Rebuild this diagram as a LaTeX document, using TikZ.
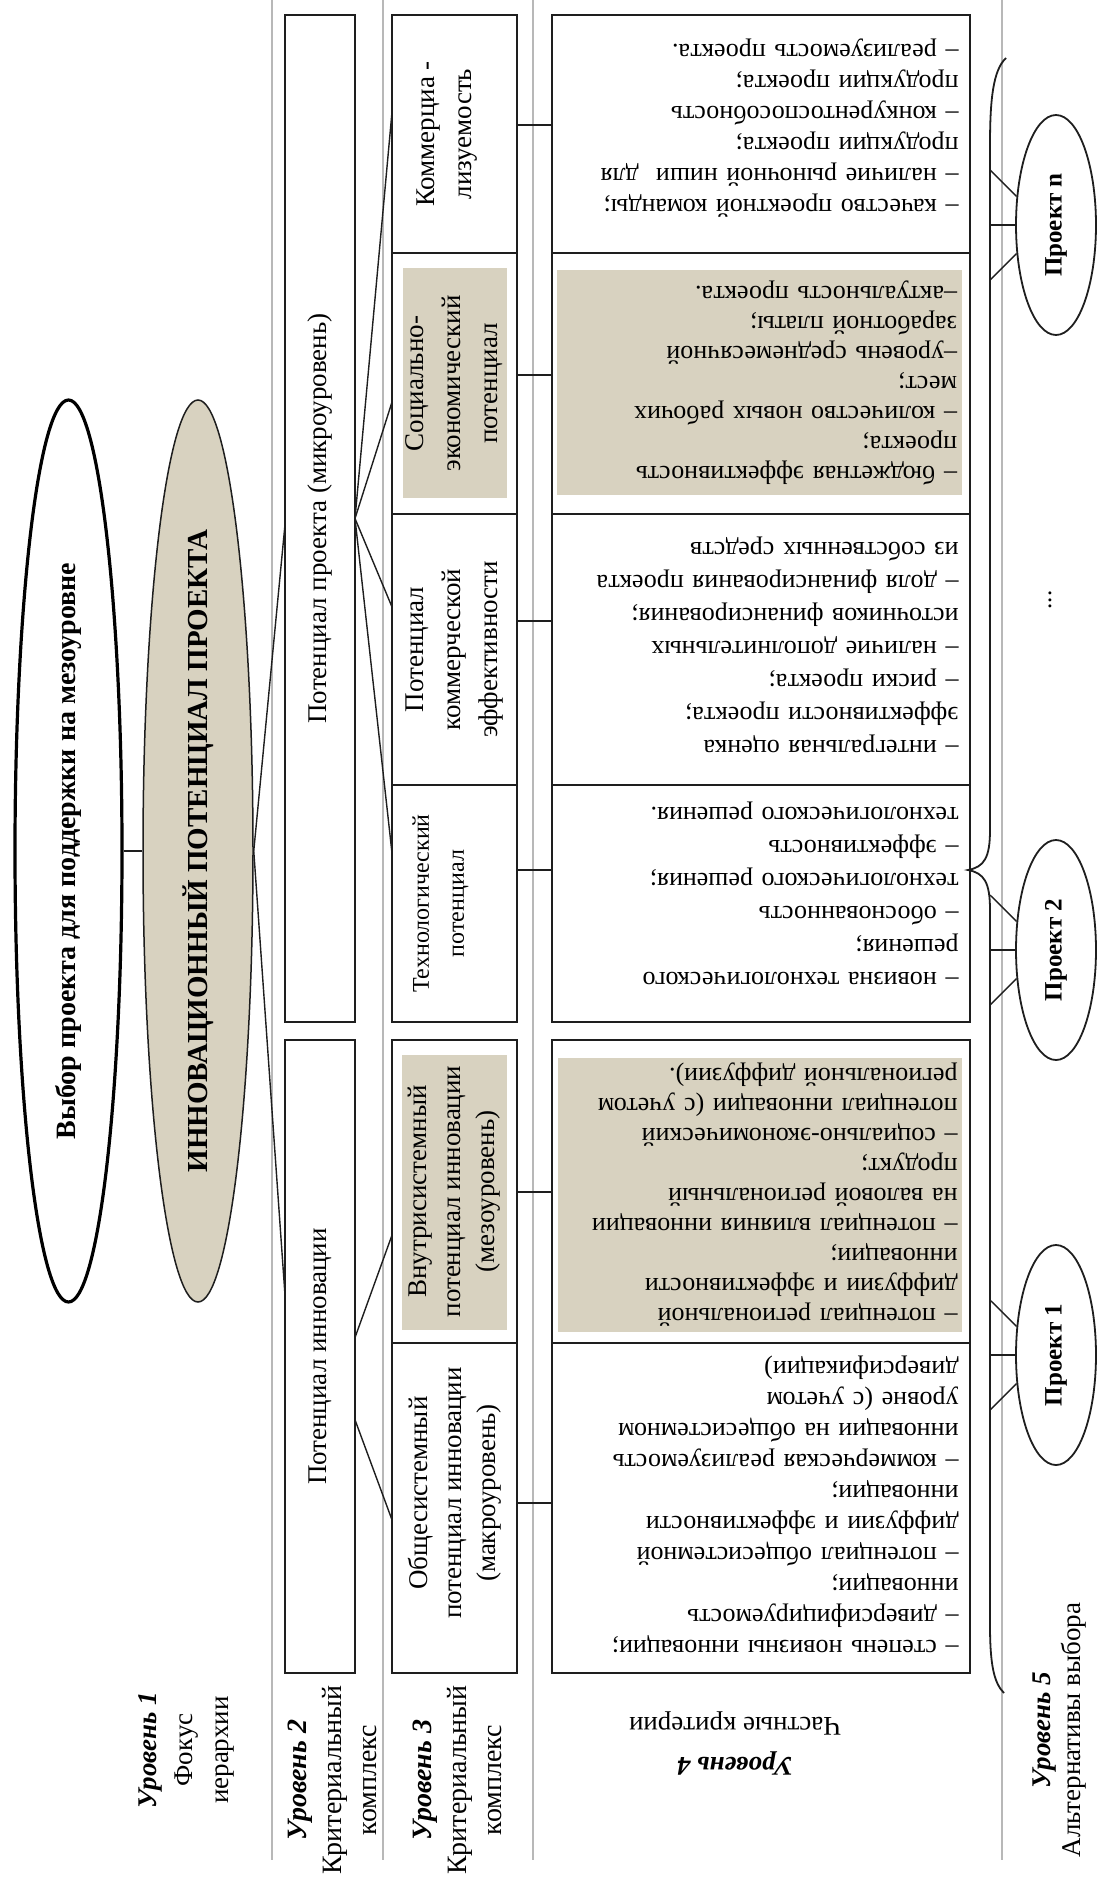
\documentclass[tikz,border=0pt]{standalone}
\usepackage{fontspec}
\setmainfont{Liberation Serif}
\usetikzlibrary{shapes.geometric,calc}
\definecolor{shade}{RGB}{216,210,192}
\definecolor{ink}{RGB}{30,30,30}
\begin{document}
\begin{tikzpicture}[x=1pt,y=-1pt,
  box/.style={draw=ink, line width=2.4pt, rectangle, inner sep=0pt, outer sep=0pt},
  shadebox/.style={fill=shade, draw=none, rectangle, inner sep=0pt, outer sep=0pt},
  conn/.style={draw=ink, line width=1.4pt},
  hconn/.style={draw=ink, line width=2.2pt},
  sepline/.style={draw=black!28, line width=1.2pt},
  bracepath/.style={draw=ink, line width=1.8pt},
  rtext/.style={rotate=90, align=center, inner sep=0pt},
  crit/.style={rotate=180, align=left, inner sep=0pt, text width=395pt},
  lvl/.style={rotate=90, align=center, inner sep=0pt},
  proj/.style={ellipse, draw=ink, line width=1.8pt, minimum width=80pt, minimum height=220pt, inner sep=0pt},
  l3font/.style={font=\fontsize{27}{37}\selectfont},
  critfont/.style={font=\fontsize{26}{31}\selectfont}
]
\useasboundingbox (0,0) rectangle (1097,1887);
\fill[white] (0,0) rectangle (1097,1887);

% separator lines
\draw[sepline] (272,0) -- (272,1860);
\draw[sepline] (383,0) -- (383,1860);
\draw[sepline] (533,0) -- (533,1860);
\draw[sepline] (1002,0) -- (1002,1860);

% level 1 ellipses
\node[ellipse, draw=black, line width=3.2pt, minimum width=107pt, minimum height=902pt, inner sep=0pt] (e1) at (68.5,851) {};
\node[ellipse, draw=ink, line width=1.5pt, fill=shade, minimum width=110pt, minimum height=902pt, inner sep=0pt] (e2) at (198,851) {};
\node[rtext, font=\bfseries\fontsize{28}{32}\selectfont] (e1t) at (e1.center) {Выбор проекта для поддержки на мезоуровне};
\node[rtext, font=\bfseries\fontsize{29}{33}\selectfont] (e2t) at (e2.center) {ИННОВАЦИОННЫЙ ПОТЕНЦИАЛ ПРОЕКТА};

% level 2 boxes
\node[box, minimum width=70pt, minimum height=1007pt] (b2a) at (320,518.5) {};
\node[box, minimum width=70pt, minimum height=633pt] (b2b) at (320,1356.5) {};
\node[rtext, font=\fontsize{27}{32}\selectfont] (b2at) at (b2a.center) {Потенциал проекта (микроуровень)};
\node[rtext, font=\fontsize{27}{32}\selectfont] (b2bt) at (b2b.center) {Потенциал инновации};

% level 3 shaded insets
\node[shadebox, minimum width=104pt, minimum height=230pt] (s2) at (455,383) {};
\node[shadebox, minimum width=105pt, minimum height=275pt] (s5) at (454.5,1192.5) {};
% level 4 shaded insets
\node[shadebox, minimum width=405pt, minimum height=225pt] (f2) at (759.5,382.5) {};
\node[shadebox, minimum width=404pt, minimum height=274pt] (f5) at (760,1195) {};

% level 3 boxes
\node[box, minimum width=125pt, minimum height=238pt] (c1) at (454.5,134) {};
\node[box, minimum width=125pt, minimum height=261pt] (c2) at (454.5,383.5) {};
\node[box, minimum width=125pt, minimum height=271pt] (c3) at (454.5,649.5) {};
\node[box, minimum width=125pt, minimum height=237pt] (c4) at (454.5,903.5) {};
\node[box, minimum width=125pt, minimum height=303pt] (c5) at (454.5,1191.5) {};
\node[box, minimum width=125pt, minimum height=330pt] (c6) at (454.5,1508) {};

% level 4 boxes
\node[box, minimum width=418pt, minimum height=238pt] (d1) at (761,134) {};
\node[box, minimum width=418pt, minimum height=261pt] (d2) at (761,383.5) {};
\node[box, minimum width=418pt, minimum height=271pt] (d3) at (761,649.5) {};
\node[box, minimum width=418pt, minimum height=237pt] (d4) at (761,903.5) {};
\node[box, minimum width=418pt, minimum height=303pt] (d5) at (761,1191.5) {};
\node[box, minimum width=418pt, minimum height=330pt] (d6) at (761,1508) {};

% level 3 texts
\node[rtext, l3font] (c1t) at ($(c1.center)+(-7,0)$) {Коммерциа -\\лизуемость};
\node[rtext, l3font] (c2t) at (c2.center) {Социально-\\экономический\\потенциал};
\node[rtext, l3font] (c3t) at (c3.center) {Потенциал\\коммерческой\\эффективности};
\node[rtext, font=\fontsize{24}{35}\selectfont] (c4t) at ($(c4.center)+(-14,0)$) {Технологический\\потенциал};
\node[rtext, font=\fontsize{27}{34}\selectfont] (c5t) at (c5.center) {Внутрисистемный\\потенциал инновации\\(мезоуровень)};
\node[rtext, font=\fontsize{27}{34}\selectfont] (c6t) at ($(c6.center)+(0,-15)$) {Общесистемный\\потенциал инновации\\(макроуровень)};

% level 4 texts (printed upside down)
\node[crit, critfont] (d1t) at ($(d1.center)+(0,-6)$) {– качество проектной команды;\\– наличие рыночной ниши \ для\\продукции проекта;\\– конкурентоспособность\\продукции проекта;\\– реализуемость проекта.};
\node[crit, font=\fontsize{26}{30}\selectfont] (d2t) at (f2.center) {– бюджетная эффективность\\проекта;\\– количество новых рабочих\\мест;\\–уровень среднемесячной\\заработной платы;\\–актуальность проекта.};
\node[crit, font=\fontsize{26}{33}\selectfont] (d3t) at ($(d3.center)+(0,-5)$) {– интегральная оценка\\эффективности проекта;\\– риски проекта;\\– наличие дополнительных\\источников финансирования;\\– доля финансирования проекта\\из собственных средств};
\node[crit, font=\fontsize{26}{33}\selectfont] (d4t) at ($(d4.center)+(0,-10)$) {– новизна технологического\\решения;\\– обоснованность\\технологического решения;\\– эффективность\\технологического решения.};
\node[crit, font=\fontsize{26}{30}\selectfont] (d5t) at (f5.center) {– потенциал региональной\\диффузии и эффективности\\инновации;\\– потенциал влияния инновации\\на валовой региональный\\продукт;\\– социально-экономический\\потенциал инновации (с учетом\\региональной диффузии).};
\node[crit, critfont] (d6t) at ($(d6.center)+(0,-4)$) {– степень новизны инновации;\\– диверсифицируемость\\инновации;\\– потенциал общесистемной\\диффузии и эффективности\\инновации;\\– коммерческая реализуемость\\инновации на общесистемном\\уровне (с учетом\\диверсификации)};

% connectors level 1 -> 2
\draw[conn] (e1) -- (e2);
\draw[conn] (e2.east) -- ($(b2a.north west)!0.506!(b2a.south west)$);
\draw[conn] (e2.east) -- ($(b2b.north west)!0.403!(b2b.south west)$);

% connectors level 2 -> 3
\draw[conn] (b2a.east) -- ($(c1.north west)!0.408!(c1.south west)$);
\draw[conn] (b2a.east) -- ($(c2.north west)!0.571!(c2.south west)$);
\draw[conn] (b2a.east) -- ($(c3.north west)!0.343!(c3.south west)$);
\draw[conn] (b2a.east) -- ($(c4.north west)!0.287!(c4.south west)$);
\draw[conn] ($(b2b.north east)!0.47!(b2b.south east)$) -- ($(c5.north west)!0.644!(c5.south west)$);
\draw[conn] ($(b2b.north east)!0.6!(b2b.south east)$) -- ($(c6.north west)!0.536!(c6.south west)$);

% connectors level 3 -> 4
\draw[hconn] ($(c1.north east)!0.462!(c1.south east)$) -- ($(d1.north west)!0.462!(d1.south west)$);
\draw[hconn] ($(c2.north east)!0.467!(c2.south east)$) -- ($(d2.north west)!0.467!(d2.south west)$);
\draw[hconn] ($(c3.north east)!0.395!(c3.south east)$) -- ($(d3.north west)!0.395!(d3.south west)$);
\draw[hconn] ($(c4.north east)!0.359!(c4.south east)$) -- ($(d4.north west)!0.359!(d4.south west)$);
\draw[hconn] ($(c5.north east)!0.502!(c5.south east)$) -- ($(d5.north west)!0.502!(d5.south west)$);
\draw[hconn] ($(c6.north east)!0.485!(c6.south east)$) -- ($(d6.north west)!0.485!(d6.south west)$);

% level 5: brace and alternatives
\coordinate (bTop) at (1006,58);
\coordinate (bTip) at (968,870);
\coordinate (bBot) at (1004,1693);
\draw[bracepath] (bTop) .. controls (993,70) and (990,100) .. (990,145) -- (990,830)
  .. controls (990,858) and (984,867) .. (bTip)
  .. controls (984,873) and (990,882) .. (990,910) -- (990,1625)
  .. controls (990,1665) and (994,1683) .. (bBot);

\node[proj] (pn) at (1056,225) {};
\node[proj] (p2) at (1056,950) {};
\node[proj] (p1) at (1056,1355) {};
\node[rotate=90, inner sep=0pt, font=\bfseries\fontsize{25}{28}\selectfont] (pnt) at (pn.center) {Проект n};
\node[rotate=90, inner sep=0pt, font=\bfseries\fontsize{25}{28}\selectfont] (p2t) at (p2.center) {Проект 2};
\node[rotate=90, inner sep=0pt, font=\bfseries\fontsize{25}{28}\selectfont] (p1t) at (p1.center) {Проект 1};
\node[rotate=90, inner sep=0pt, font=\fontsize{25}{28}\selectfont] (dots) at (1050,600) {...};

\coordinate (pnA) at (990,170); \coordinate (pnB) at (990,225); \coordinate (pnC) at (990,280);
\coordinate (p2A) at (990,895); \coordinate (p2B) at (990,950); \coordinate (p2C) at (990,1005);
\coordinate (p1A) at (990,1300); \coordinate (p1B) at (990,1355); \coordinate (p1C) at (990,1410);
\draw[conn] (pnA) -- (pn.144); \draw[conn] (pnB) -- (pn.west); \draw[conn] (pnC) -- (pn.216);
\draw[conn] (p2A) -- (p2.144); \draw[conn] (p2B) -- (p2.west); \draw[conn] (p2C) -- (p2.216);
\draw[conn] (p1A) -- (p1.144); \draw[conn] (p1B) -- (p1.west); \draw[conn] (p1C) -- (p1.216);

% level labels
\node[lvl, font=\fontsize{27}{36}\selectfont] (l1) at (186,1750) {\textbf{\textit{Уровень 1}}\\Фокус\\иерархии};
\node[lvl, font=\fontsize{28}{35}\selectfont] (l2) at (332,1780) {\textbf{\textit{Уровень 2}}\\Критериальный\\комплекс};
\node[lvl, font=\fontsize{28}{35}\selectfont] (l3) at (457,1780) {\textbf{\textit{Уровень 3}}\\Критериальный\\комплекс};
\node[rotate=180, align=center, inner sep=0pt, font=\fontsize{27}{40}\selectfont] (l4) at (735,1743) {\textbf{\textit{Уровень 4}}\\Частные критерии};
\node[lvl, font=\fontsize{27}{30}\selectfont] (l5) at (1060,1730) {\textbf{\textit{Уровень 5}}\\Альтернативы выбора};
\end{tikzpicture}
\end{document}
